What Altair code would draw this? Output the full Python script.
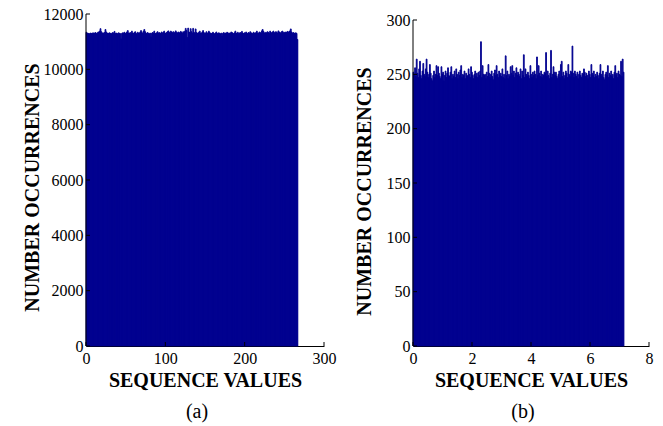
import altair as alt
import numpy as np
import pandas as pd

# Occurrence counts per histogram bin (256 bins each)
counts_a = [
    11340, 11310, 11290, 11300, 11280, 11310, 11300, 11290, 11320, 11300, 11310, 11330, 11300, 11290, 11340, 11350,
    11380, 11470, 11360, 11300, 11320, 11290, 11330, 11440, 11350, 11300, 11310, 11290, 11320, 11300, 11280, 11310,
    11330, 11300, 11370, 11290, 11310, 11300, 11280, 11320, 11300, 11290, 11100, 11300, 11320, 11310, 11340, 11300,
    11290, 11350, 11400, 11310, 11300, 11330, 11290, 11380, 11310, 11300, 11330, 11360, 11300, 11280, 11340, 11310,
    11300, 11350, 11400, 11330, 11300, 11380, 11440, 11360, 11310, 11290, 11330, 11300, 11280, 11310, 11170, 11300,
    11330, 11310, 11380, 11300, 11290, 11320, 11360, 11300, 11330, 11290, 11310, 11350, 11300, 11340, 11380, 11310,
    11300, 11330, 11360, 11390, 11340, 11310, 11380, 11350, 11320, 11360, 11300, 11340, 11390, 11330, 11310, 11350,
    11300, 11330, 11370, 11340, 11300, 11360, 11330, 11380, 11480, 11400, 11150, 11490, 11350, 11330, 11470, 11360,
    11310, 11480, 11340, 11300, 11460, 11330, 11310, 11290, 11340, 11380, 11310, 11300, 11350, 11400, 11330, 11290,
    11310, 11360, 11300, 11320, 11380, 11330, 11300, 11290, 11310, 11340, 11300, 11280, 11310, 11350, 11300, 11290,
    11320, 11300, 11280, 11310, 11200, 11300, 11330, 11290, 11310, 11300, 11340, 11320, 11290, 11310, 11300, 11350,
    11330, 11300, 11290, 11320, 11380, 11310, 11300, 11340, 11290, 11310, 11330, 11300, 11370, 11310, 11290, 11320,
    11300, 11350, 11310, 11290, 11330, 11300, 11360, 11320, 11300, 11290, 11340, 11310, 11300, 11330, 11380, 11310,
    11300, 11350, 11330, 11300, 11390, 11440, 11370, 11320, 11300, 11340, 11310, 11360, 11330, 11300, 11380, 11340,
    11310, 11350, 11380, 11330, 11300, 11360, 11340, 11310, 11390, 11350, 11330, 11300, 11360, 11380, 11320, 11340,
    11310, 11350, 11330, 11370, 11340, 11360, 11390, 11460, 11350, 11300, 11330, 11310, 11290, 11320, 11300, 11080,
]

counts_b = [
    252, 250, 256, 248, 264, 251, 247, 255, 262, 249, 246, 253, 260, 250, 248, 255,
    264, 252, 247, 250, 259, 251, 246, 244, 249, 253, 247, 250, 258, 249, 257, 251,
    248, 246, 257, 250, 252, 244, 249, 253, 247, 251, 256, 249, 248, 252, 257, 246,
    250, 248, 253, 247, 255, 250, 246, 252, 249, 254, 258, 247, 250, 249, 253, 246,
    251, 248, 249, 255, 250, 247, 257, 252, 249, 246, 250, 253, 248, 251, 247, 252,
    249, 253, 280, 247, 258, 250, 249, 250, 246, 252, 248, 259, 251, 247, 250, 253,
    248, 245, 251, 254, 249, 258, 250, 247, 253, 249, 251, 248, 255, 247, 250, 246,
    267, 249, 253, 246, 250, 248, 257, 251, 258, 249, 253, 247, 251, 256, 249, 252,
    250, 248, 255, 246, 253, 249, 268, 247, 255, 250, 248, 252, 249, 246, 258, 250,
    247, 252, 249, 253, 250, 246, 266, 249, 258, 251, 248, 253, 247, 250, 249, 252,
    251, 270, 248, 253, 249, 246, 251, 272, 247, 250, 257, 252, 249, 252, 248, 246,
    250, 253, 247, 259, 262, 248, 252, 246, 249, 253, 251, 247, 259, 250, 248, 253,
    252, 276, 251, 247, 253, 250, 248, 252, 246, 250, 253, 249, 247, 251, 250, 255,
    252, 248, 251, 249, 246, 253, 250, 247, 259, 251, 249, 253, 247, 250, 248, 252,
    249, 246, 251, 259, 250, 248, 253, 247, 245, 250, 252, 249, 258, 247, 251, 249,
    253, 248, 250, 246, 252, 258, 249, 251, 247, 253, 250, 249, 262, 248, 264, 252,
]

# Upper edge of the last bin on each sequence axis
upper_a = 267.0
upper_b = 7.15

x_ticks_a = [0, 100, 200, 300]
y_ticks_a = [0, 2000, 4000, 6000, 8000, 10000, 12000]
x_ticks_b = [0, 2, 4, 6, 8]
y_ticks_b = [0, 50, 100, 150, 200, 250, 300]

FONT = "'Liberation Serif', 'Times New Roman', 'DejaVu Serif', serif"
BAR = "#00008F"
H = 332
TICK = 4


def bin_table(counts, upper):
    edges = np.linspace(0.0, upper, len(counts) + 1)
    return pd.DataFrame({"lo": edges[:-1], "hi": edges[1:], "n": counts})


def panel(counts, upper, x_dom, y_dom, x_ticks, y_ticks, width, title_x, title_y, label):
    xs = alt.Scale(domain=x_dom, nice=False, zero=False)
    ys = alt.Scale(domain=y_dom, nice=False, zero=False)

    x_axis = alt.Axis(
        values=x_ticks, format="d", title="SEQUENCE VALUES", ticks=False, grid=False,
        domain=True, domainColor="black", domainWidth=1,
        labelFont=FONT, labelFontSize=16, labelColor="black", labelPadding=4,
        labelFlush=False, labelOverlap=False,
        titleFont=FONT, titleFontSize=20, titleFontWeight="bold", titleColor="black",
        titleBaseline="middle", titleY=34,
    )
    y_axis = alt.Axis(
        values=y_ticks, format="d", title="NUMBER OCCURRENCES", ticks=False, grid=False,
        domain=False, labelFont=FONT, labelFontSize=16, labelColor="black",
        labelPadding=3, labelFlush=False, labelOverlap=False,
        titleFont=FONT, titleFontSize=20, titleFontWeight="bold", titleColor="black",
        titleAngle=270, titleBaseline="middle", titleAlign="center",
        titleX=title_x, titleY=title_y,
    )

    bars = alt.Chart(bin_table(counts, upper)).mark_rect(
        color=BAR, stroke=BAR, strokeWidth=0.9
    ).encode(
        x=alt.X("lo:Q", scale=xs, axis=x_axis),
        x2="hi:Q",
        y=alt.Y("n:Q", scale=ys, axis=y_axis),
        y2=alt.datum(0),
    )

    # vertical axis line from 0 up to the top tick
    y_line = alt.Chart(pd.DataFrame({"a": [0], "b": [y_ticks[-1]]})).mark_rule(
        color="black", strokeWidth=1
    ).encode(
        x=alt.value(0),
        y=alt.Y("a:Q", scale=ys),
        y2="b:Q",
    )

    # short inward tick marks
    y_tick_marks = alt.Chart(pd.DataFrame({"a": y_ticks})).mark_rule(
        color="black", strokeWidth=1
    ).encode(
        y=alt.Y("a:Q", scale=ys),
        x=alt.value(0),
        x2=alt.value(TICK),
    )
    x_tick_marks = alt.Chart(pd.DataFrame({"lo": x_ticks})).mark_rule(
        color="black", strokeWidth=1
    ).encode(
        x=alt.X("lo:Q", scale=xs),
        y=alt.value(H),
        y2=alt.value(H - TICK),
    )

    return alt.layer(bars, y_line, y_tick_marks, x_tick_marks).properties(
        width=width,
        height=H,
        title=alt.TitleParams(
            label, orient="bottom", font=FONT, fontSize=20, fontWeight="normal",
            color="black", anchor="middle", dx=-8, offset=12,
        ),
    )


# right panel's top tick sits a little lower than the left one
top_b = 300 * H / 326.0

left = panel(counts_a, upper_a, [0, 300], [0, 12000], x_ticks_a, y_ticks_a,
             238, -54, 173, "(a)")
right = panel(counts_b, upper_b, [0, 8], [0, top_b], x_ticks_b, y_ticks_b,
              236, -48.5, 177, "(b)")

chart = alt.hconcat(left, right, spacing=18).properties(
    padding={"left": 22, "top": 6, "right": 5, "bottom": 5},
    background="white",
).configure_view(stroke=None)

chart.save("out.html", embed_options={"renderer": "svg", "actions": False})
